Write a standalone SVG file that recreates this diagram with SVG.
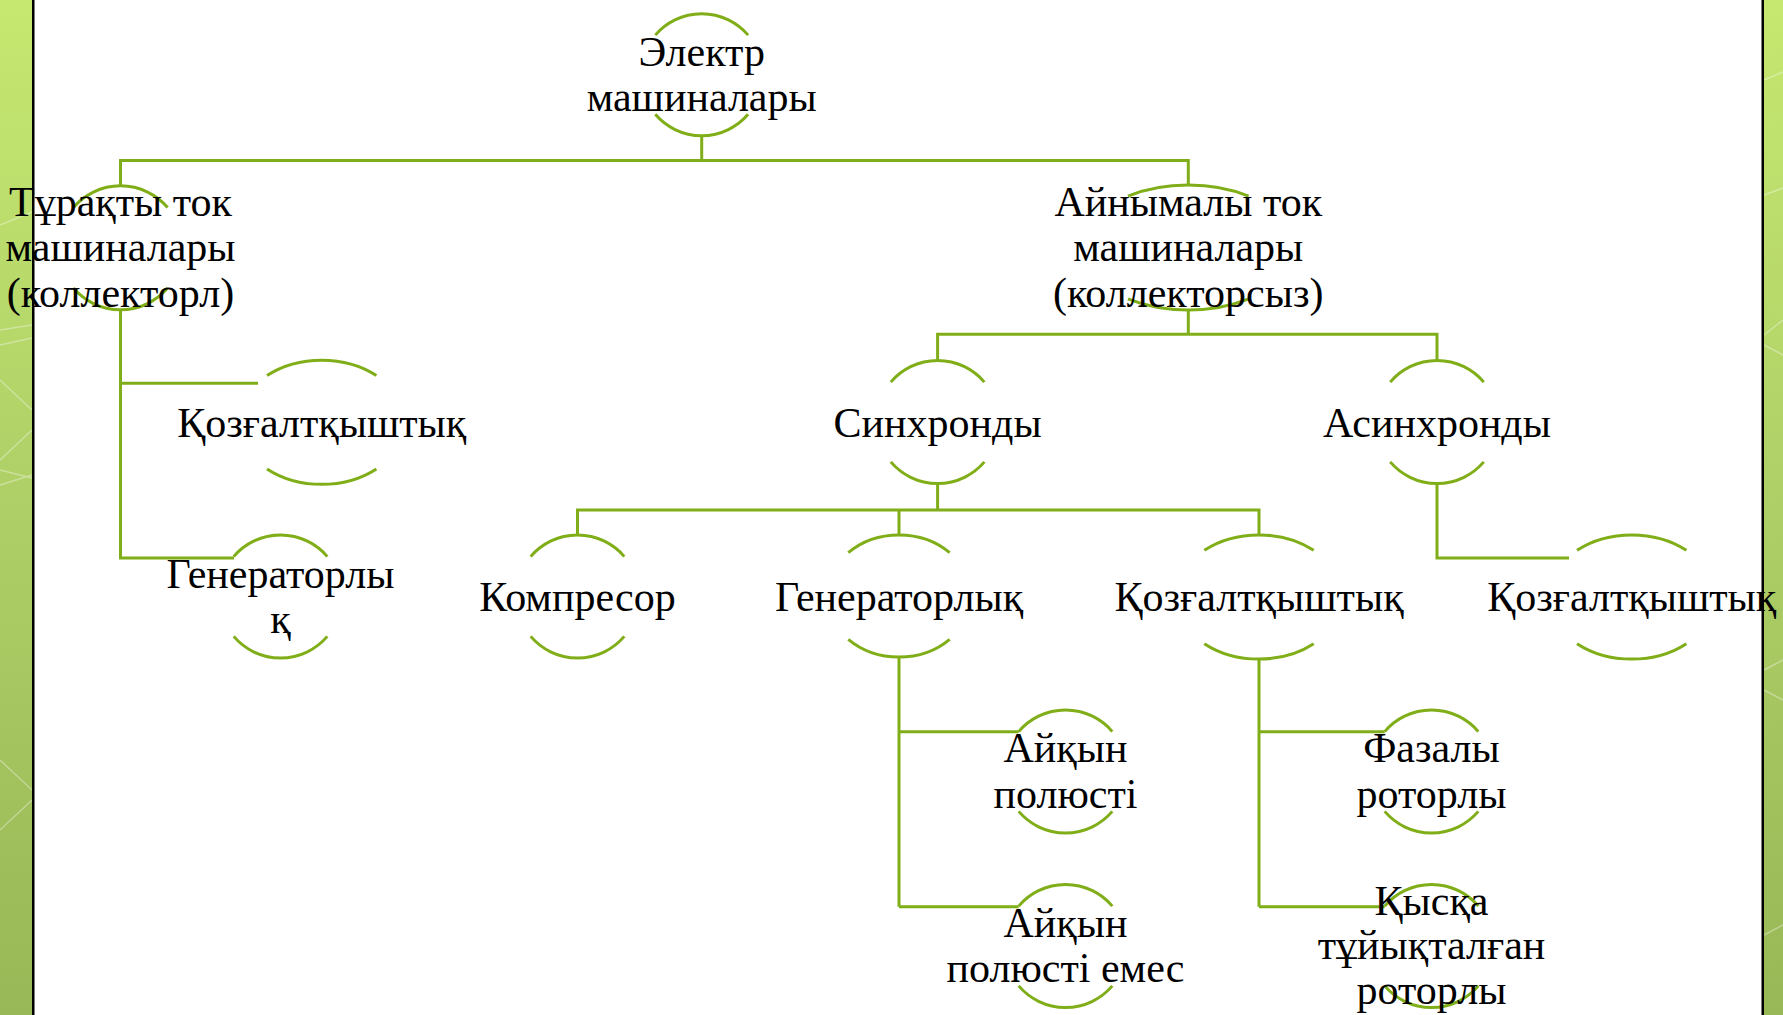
<svg xmlns="http://www.w3.org/2000/svg" width="1783" height="1015" viewBox="0 0 1783 1015">
<defs>
<linearGradient id="bar" x1="0" y1="0" x2="0" y2="1">
<stop offset="0" stop-color="#C6E870"/>
<stop offset="0.5" stop-color="#AECF67"/>
<stop offset="1" stop-color="#98B756"/>
</linearGradient>
</defs>
<style>
.arc{fill:none;stroke:#80AE18;stroke-width:3}
.con{fill:none;stroke:#80AE18;stroke-width:3;stroke-linecap:butt;stroke-linejoin:miter}
.t{font-family:"Liberation Serif","Times New Roman",serif;font-size:42px;fill:#000;text-anchor:middle}
.sh{stroke:#FFFFFF;stroke-opacity:0.35;stroke-width:1.5;fill:none}
</style>
<rect x="0" y="0" width="1783" height="1015" fill="#FFFFFF"/>
<g id="bars">
<rect x="0" y="0" width="32" height="1015" fill="url(#bar)"/>
<path class="sh" d="M0 225 L32 212 M0 330 L32 325 M0 345 L32 338 M0 380 L32 410 M0 460 L32 430 M0 470 L32 478 M0 485 L32 475 M0 760 L32 790 M0 830 L32 800"/>
<rect x="32" y="0" width="2.5" height="1015" fill="#000"/>
<rect x="1764" y="0" width="19" height="1015" fill="url(#bar)"/>
<path class="sh" d="M1764 80 L1783 72 M1764 195 L1783 188 M1764 335 L1783 320 M1764 345 L1783 355 M1764 670 L1783 660 M1764 690 L1783 700 M1764 935 L1783 925"/>
<rect x="1761.5" y="0" width="2.5" height="1015" fill="#000"/>
</g>
<g id="connectors">
<path class="con" d="M701.7 135.7 V160.5"/>
<path class="con" d="M120.5 186 V160.5 H1188.3 V185"/>
<path class="con" d="M120.5 309.8 V558 H234"/>
<path class="con" d="M120.5 383.3 H258"/>
<path class="con" d="M1188.3 310 V334.3"/>
<path class="con" d="M937.6 360.5 V334.3 H1437 V360.5"/>
<path class="con" d="M937.6 483.5 V510"/>
<path class="con" d="M577.5 535 V510 H1259 V535"/>
<path class="con" d="M899 510 V535"/>
<path class="con" d="M1437 483.5 V558 H1569"/>
<path class="con" d="M899 657 V906.7"/>
<path class="con" d="M899 731.7 H1018.7"/>
<path class="con" d="M899 906.7 H1018.7"/>
<path class="con" d="M1259 659 V906.7"/>
<path class="con" d="M1259 731.7 H1384.7"/>
<path class="con" d="M1259 906.7 H1384.7"/>
</g>
<g id="n-elektr">
<path class="arc" d="M655.3 35.1 A61 61 0 0 1 748.1 35.1"/>
<path class="arc" d="M655.3 114.3 A61 61 0 0 0 748.1 114.3"/>
<text class="t" x="701.7" y="65.5">Электр</text>
<text class="t" x="701.7" y="110.5">машиналары</text>
</g>
<g id="n-turakty">
<path class="arc" d="M73.4 207.5 A62 62 0 0 1 167.6 207.5"/>
<path class="arc" d="M73.4 288.1 A62 62 0 0 0 167.6 288.1"/>
<text class="t" x="120.5" y="215.5">Тұрақты ток</text>
<text class="t" x="120.5" y="261">машиналары</text>
<text class="t" x="120.5" y="306.5">(коллекторл)</text>
</g>
<g id="n-ainymaly">
<path class="arc" d="M1128 196.1 A106 62.5 0 0 1 1248.6 196.1"/>
<path class="arc" d="M1128 298.9 A106 62.5 0 0 0 1248.6 298.9"/>
<text class="t" x="1188.3" y="215.5">Айнымалы ток</text>
<text class="t" x="1188.3" y="261">машиналары</text>
<text class="t" x="1188.3" y="306.5">(коллекторсыз)</text>
</g>
<g id="n-qozg1">
<path class="arc" d="M267 375.6 A83 62 0 0 1 376.4 375.6"/>
<path class="arc" d="M267 469 A83 62 0 0 0 376.4 469"/>
<text class="t" x="321.7" y="437">Қозғалтқыштық</text>
</g>
<g id="n-sinkhr">
<path class="arc" d="M890.8 382.1 A61.5 61.5 0 0 1 984.4 382.1"/>
<path class="arc" d="M890.8 461.9 A61.5 61.5 0 0 0 984.4 461.9"/>
<text class="t" x="937.6" y="437">Синхронды</text>
</g>
<g id="n-asinkhr">
<path class="arc" d="M1390.2 382.1 A61.5 61.5 0 0 1 1483.8 382.1"/>
<path class="arc" d="M1390.2 461.9 A61.5 61.5 0 0 0 1483.8 461.9"/>
<text class="t" x="1437" y="437">Асинхронды</text>
</g>
<g id="n-gen1">
<path class="arc" d="M233.7 556.6 A61.5 61.5 0 0 1 327.3 556.6"/>
<path class="arc" d="M233.7 636.4 A61.5 61.5 0 0 0 327.3 636.4"/>
<text class="t" x="280.5" y="587.5">Генераторлы</text>
<text class="t" x="280.5" y="632.5">қ</text>
</g>
<g id="n-kompr">
<path class="arc" d="M530.7 556.6 A61.5 61.5 0 0 1 624.3 556.6"/>
<path class="arc" d="M530.7 636.4 A61.5 61.5 0 0 0 624.3 636.4"/>
<text class="t" x="577.5" y="611">Компресор</text>
</g>
<g id="n-gen2">
<path class="arc" d="M848.3 552.7 A72 61 0 0 1 949.7 552.7"/>
<path class="arc" d="M848.3 639.3 A72 61 0 0 0 949.7 639.3"/>
<text class="t" x="899" y="611">Генераторлық</text>
</g>
<g id="n-qozg2">
<path class="arc" d="M1204.3 550.3 A83 62 0 0 1 1313.7 550.3"/>
<path class="arc" d="M1204.3 643.7 A83 62 0 0 0 1313.7 643.7"/>
<text class="t" x="1259" y="611">Қозғалтқыштық</text>
</g>
<g id="n-qozg3">
<path class="arc" d="M1577 550.3 A83 62 0 0 1 1686.4 550.3"/>
<path class="arc" d="M1577 643.7 A83 62 0 0 0 1686.4 643.7"/>
<text class="t" x="1631.7" y="611">Қозғалтқыштық</text>
</g>
<g id="n-aiqyn1">
<path class="arc" d="M1018.7 731.6 A61.5 61.5 0 0 1 1112.3 731.6"/>
<path class="arc" d="M1018.7 811.4 A61.5 61.5 0 0 0 1112.3 811.4"/>
<text class="t" x="1065.5" y="762">Айқын</text>
<text class="t" x="1065.5" y="807.5">полюсті</text>
</g>
<g id="n-aiqyn2">
<path class="arc" d="M1018.7 906.1 A61.5 61.5 0 0 1 1112.3 906.1"/>
<path class="arc" d="M1018.7 985.9 A61.5 61.5 0 0 0 1112.3 985.9"/>
<text class="t" x="1065.5" y="936.5">Айқын</text>
<text class="t" x="1065.5" y="981.5">полюсті емес</text>
</g>
<g id="n-fazaly">
<path class="arc" d="M1384.7 731.6 A61.5 61.5 0 0 1 1478.3 731.6"/>
<path class="arc" d="M1384.7 811.4 A61.5 61.5 0 0 0 1478.3 811.4"/>
<text class="t" x="1431.5" y="762">Фазалы</text>
<text class="t" x="1431.5" y="807.5">роторлы</text>
</g>
<g id="n-qyska">
<path class="arc" d="M1384.7 906.1 A61.5 61.5 0 0 1 1478.3 906.1"/>
<path class="arc" d="M1384.7 985.9 A61.5 61.5 0 0 0 1478.3 985.9"/>
<text class="t" x="1431.5" y="914.5">Қысқа</text>
<text class="t" x="1431.5" y="959">тұйықталған</text>
<text class="t" x="1431.5" y="1003.5">роторлы</text>
</g>
</svg>
